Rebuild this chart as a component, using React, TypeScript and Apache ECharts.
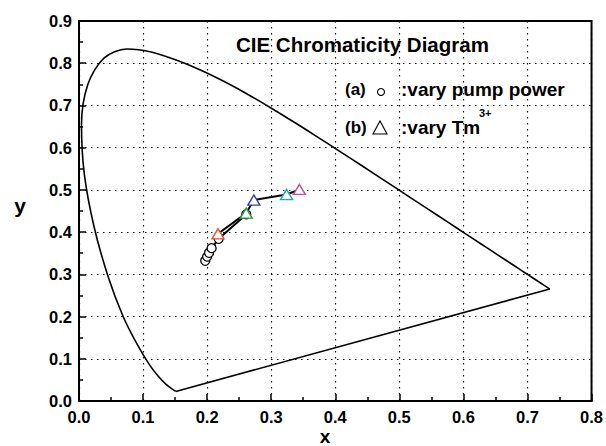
import React, { useEffect, useRef } from 'react';
import * as echarts from 'echarts';

// CIE 1931 spectral locus (455 nm → 700 nm)
const locusX = [0.1510, 0.1440, 0.1355, 0.1241, 0.1096, 0.0913, 0.0687, 0.0454, 0.0235, 0.0082, 0.0039, 0.0139, 0.0389, 0.0743, 0.1142, 0.1547, 0.1929, 0.2296, 0.2658, 0.3016, 0.3373, 0.3731, 0.4087, 0.4441, 0.4788, 0.5125, 0.5448, 0.5752, 0.6029, 0.6270, 0.6482, 0.6658, 0.6801, 0.6915, 0.7006, 0.7079, 0.7140, 0.7190, 0.7230, 0.7260, 0.7283, 0.7300, 0.7320, 0.7334, 0.7347];
const locusY = [0.0227, 0.0297, 0.0399, 0.0578, 0.0868, 0.1327, 0.2007, 0.2950, 0.4127, 0.5384, 0.6548, 0.7502, 0.8120, 0.8338, 0.8262, 0.8059, 0.7816, 0.7543, 0.7243, 0.6923, 0.6589, 0.6245, 0.5896, 0.5547, 0.5202, 0.4866, 0.4544, 0.4242, 0.3965, 0.3725, 0.3514, 0.3340, 0.3197, 0.3083, 0.2993, 0.2920, 0.2859, 0.2809, 0.2770, 0.2740, 0.2717, 0.2700, 0.2680, 0.2666, 0.2653];

// (a) vary pump power
const pumpX = [0.197, 0.200, 0.203, 0.207, 0.218, 0.261];
const pumpY = [0.332, 0.342, 0.351, 0.362, 0.384, 0.442];

// (b) vary Tm3+
const tmX = [0.217, 0.261, 0.273, 0.324, 0.344];
const tmY = [0.396, 0.445, 0.476, 0.489, 0.501];
const tmColors = ['#E8502E', '#2E9E4A', '#3B3F9C', '#1AAAAA', '#C24E9E'];

const xMin = 0, xMax = 0.8, xStep = 0.1;
const yMin = 0, yMax = 0.9, yStep = 0.1;

const FONT = 'Liberation Sans, Arial, sans-serif';

export default function App() {
  const ref = useRef<HTMLDivElement>(null);
  useEffect(() => {
    if (!ref.current) return;
    const chart = echarts.init(ref.current, null, { renderer: 'svg' });
    const locus = locusX.map((x, i) => [x, locusY[i]]);
    const n = locusX.length - 1;
    const purple = [[locusX[n], locusY[n]], [locusX[0], locusY[0]]];
    const axisCommon = {
      type: 'value' as const,
      axisLine: { show: true, lineStyle: { color: '#000', width: 2 } },
      axisTick: { show: true, inside: true, length: 7, lineStyle: { color: '#000', width: 1.5 } },
      minorTick: { show: true, splitNumber: 2, length: 4, lineStyle: { color: '#000', width: 1.5 } },
      splitLine: { show: true, lineStyle: { color: '#000', width: 1.2, type: [1.5, 4.5] } },
      axisLabel: {
        color: '#000', fontWeight: 'bold' as const, fontSize: 16.5, fontFamily: FONT,
        formatter: (v: number) => v.toFixed(1), margin: 7,
      },
    };
    chart.setOption({
      animation: false,
      backgroundColor: '#fff',
      grid: { left: 79, right: 14, top: 21, bottom: 45, show: true, borderColor: '#000', borderWidth: 2 },
      xAxis: { ...axisCommon, min: xMin, max: xMax, interval: xStep },
      yAxis: { ...axisCommon, min: yMin, max: yMax, interval: yStep },
      series: [
        {
          type: 'line', data: locus, showSymbol: false, symbol: 'none',
          lineStyle: { color: '#000', width: 1.6 }, smooth: 0.3, z: 2,
        },
        {
          type: 'line', data: purple, showSymbol: false, symbol: 'none',
          lineStyle: { color: '#000', width: 1.6 }, z: 2,
        },
        {
          type: 'line', data: pumpX.map((x, i) => [x, pumpY[i]]),
          symbol: 'circle', symbolSize: 9,
          lineStyle: { color: '#000', width: 2 },
          itemStyle: { color: '#fff', borderColor: '#000', borderWidth: 1.3 }, z: 3,
        },
        {
          type: 'line',
          data: tmX.map((x, i) => ({ value: [x, tmY[i]], itemStyle: { borderColor: tmColors[i] } })),
          symbol: 'triangle', symbolSize: [12, 10],
          lineStyle: { color: '#000', width: 2 },
          itemStyle: { color: '#fff', borderWidth: 1.4 }, z: 4,
        },
      ],
      graphic: [
        { type: 'text', left: 236, top: 34, style: { text: 'CIE Chromaticity Diagram', font: `bold 20.5px ${FONT}`, fill: '#000' } },
        { type: 'text', x: 345, y: 89, style: { text: '(a)', font: `bold 17px ${FONT}`, fill: '#000', verticalAlign: 'middle' } },
        { type: 'circle', shape: { cx: 381, cy: 92, r: 3.5 }, style: { fill: '#fff', stroke: '#000', lineWidth: 1.1 } },
        { type: 'text', x: 401, y: 89, style: { text: ':vary pump power', font: `bold 19px ${FONT}`, fill: '#000', verticalAlign: 'middle' } },
        { type: 'text', x: 345, y: 127, style: { text: '(b)', font: `bold 17px ${FONT}`, fill: '#000', verticalAlign: 'middle' } },
        { type: 'polygon', shape: { points: [[373, 134], [387, 134], [380, 121]] }, style: { fill: 'none', stroke: '#000', lineWidth: 1.1 } },
        { type: 'text', x: 401, y: 127, style: { text: ':vary Tm', font: `bold 19px ${FONT}`, fill: '#000', verticalAlign: 'middle' } },
        { type: 'text', x: 479, y: 113, style: { text: '3+', font: `bold 11px ${FONT}`, fill: '#000', verticalAlign: 'middle' } },
        { type: 'text', x: 325, y: 436, style: { text: 'x', font: `bold 19px ${FONT}`, fill: '#000', align: 'center', verticalAlign: 'middle' } },
        { type: 'text', x: 20, y: 205, style: { text: 'y', font: `bold 21px ${FONT}`, fill: '#000', align: 'center', verticalAlign: 'middle' } },
      ],
    });
    return () => chart.dispose();
  }, []);
  return <div ref={ref} style={{ position: 'absolute', left: 0, top: 0, width: 606, height: 446 }} />;
}
